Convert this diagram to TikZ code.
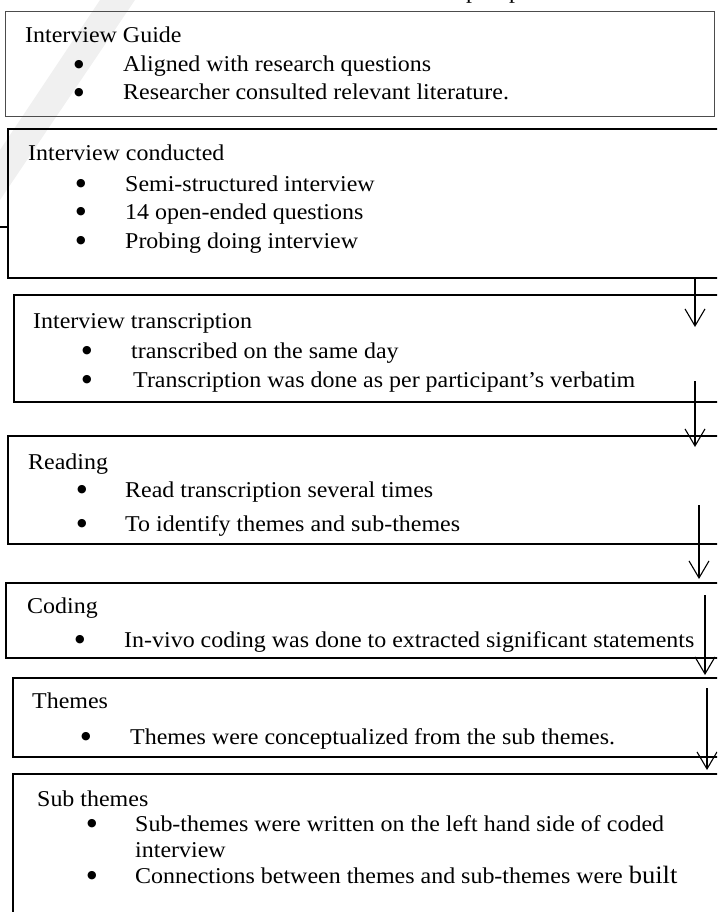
\documentclass[tikz,border=0pt]{standalone}
\usepackage{fontspec}
\setmainfont[FakeStretch=1.06]{Liberation Serif}
\newfontfamily\dotfont{DejaVu Sans}
\usetikzlibrary{arrows.meta}
\begin{document}
\begin{tikzpicture}[x=1pt,y=-1pt,
  box/.style={draw=black, line width=1.5pt, rectangle, inner sep=0pt, anchor=north west},
  txt/.style={anchor=base west, inner sep=0pt, font=\fontsize{22.6}{26}\selectfont},
  bul/.style={anchor=center, inner sep=0pt, font=\dotfont\fontsize{11}{11}\selectfont},
  flow/.style={line width=1.1pt, -{Straight Barb[length=17pt,width=20pt,line width=1.1pt]}}
]
\useasboundingbox (0,0) rectangle (717,912);
\clip (0,0) rectangle (717,912);
% faint watermark stroke
\fill[gray!12] (100,0) -- (135,0) -- (0,200) -- (0,150) -- cycle;
% clipped text at the top
\node[txt] (tp1) at (466,-1) {p};
\node[txt] (tp2) at (509,-1) {p};
% boxes
\node[box, draw=black!70, line width=1.1pt, minimum width=709pt, minimum height=105pt] (b1) at (5,11) {};
\node[box, line width=2pt, minimum width=730pt, minimum height=149pt] (b2) at (7,128) {};
\node[box, minimum width=730pt, minimum height=107pt] (b3) at (13,294) {};
\node[box, minimum width=730pt, minimum height=108pt] (b4) at (7,435) {};
\node[box, minimum width=730pt, minimum height=75pt] (b5) at (5,582) {};
\node[box, minimum width=730pt, minimum height=79pt] (b6) at (12,677) {};
\node[box, minimum width=730pt, minimum height=160pt] (b7) at (12,773) {};
% left stub
\coordinate (stubA) at (0,227);
\coordinate (stubB) at (7,227);
\draw[line width=1.2pt] (stubA) -- (stubB);
% box 1
\node[txt] (t11) at (25,43) {Interview Guide};
\node[bul] (p11) at (79,65) {●};
\node[txt] (t12) at (123,72) {Aligned with research questions};
\node[bul] (p12) at (79,93) {●};
\node[txt] (t13) at (123,100) {Researcher consulted relevant literature.};
% box 2
\node[txt] (t21) at (28,161) {Interview conducted};
\node[bul] (p21) at (81,184) {●};
\node[txt] (t22) at (125,191) {Semi-structured interview};
\node[bul] (p22) at (81,212) {●};
\node[txt] (t23) at (125,219) {14 open-ended questions};
\node[bul] (p23) at (81,241) {●};
\node[txt] (t24) at (125,248) {Probing doing interview};
% box 3
\node[txt] (t31) at (33,328) {Interview transcription};
\node[bul] (p31) at (87,351) {●};
\node[txt] (t32) at (131,358) {transcribed on the same day};
\node[bul] (p32) at (87,380) {●};
\node[txt] (t33) at (133,387) {Transcription was done as per participant’s verbatim};
% box 4
\node[txt] (t41) at (28,469) {Reading};
\node[bul] (p41) at (82,490) {●};
\node[txt] (t42) at (125,497) {Read transcription several times};
\node[bul] (p42) at (82,524) {●};
\node[txt] (t43) at (125,531) {To identify themes and sub-themes};
% box 5
\node[txt] (t51) at (27,613) {Coding};
\node[bul] (p51) at (80,640) {●};
\node[txt] (t52) at (124,647) {In-vivo coding was done to extracted significant statements};
% box 6
\node[txt] (t61) at (32,708) {Themes};
\node[bul] (p61) at (86,737) {●};
\node[txt] (t62) at (130,744) {Themes were conceptualized from the sub themes.};
% box 7
\node[txt] (t71) at (37,806) {Sub themes};
\node[bul] (p71) at (92,824) {●};
\node[txt] (t72) at (135,831) {Sub-themes were written on the left hand side of coded};
\node[txt] (t73) at (135,857) {interview};
\node[bul] (p72) at (92,876) {●};
\node[txt] (t74) at (135,883) {Connections between themes and sub-themes were {\fontsize{25}{26}\selectfont built}};
% arrows
\coordinate (a1s) at (695,277); \coordinate (a1e) at (695,327);
\coordinate (a2s) at (695,381); \coordinate (a2e) at (695,447);
\coordinate (a3s) at (699,505); \coordinate (a3e) at (699,579);
\coordinate (a4s) at (705,595); \coordinate (a4e) at (705,675);
\coordinate (a5s) at (707,688); \coordinate (a5e) at (707,770);
\draw[flow] (a1s) -- (a1e);
\draw[flow] (a2s) -- (a2e);
\draw[flow] (a3s) -- (a3e);
\draw[flow] (a4s) -- (a4e);
\draw[flow] (a5s) -- (a5e);
\end{tikzpicture}
\end{document}
